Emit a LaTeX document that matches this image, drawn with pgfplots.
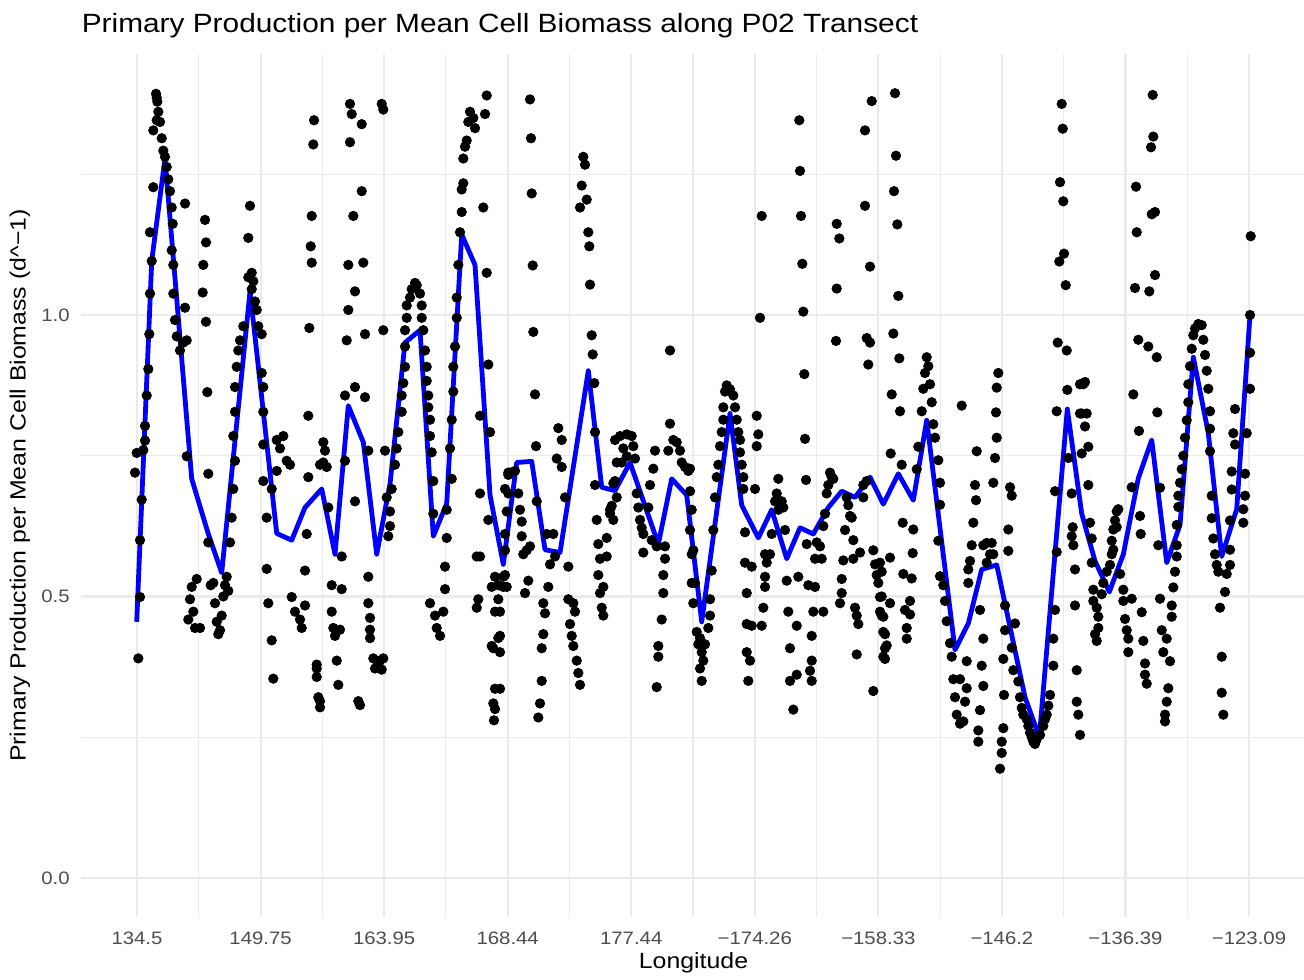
\documentclass[border=0pt]{standalone}
\usepackage{pgfplots}
\pgfplotsset{compat=1.18}
\usepackage{fontspec}
\setmainfont{Liberation Sans}[FakeStretch=1.13]
\definecolor{gridgrey}{HTML}{EBEBEB}
\definecolor{ticktext}{HTML}{4D4D4D}

\begin{document}
\begin{tikzpicture}
\begin{axis}[
    name=ax,
    scale only axis,
    width=612pt, height=431.5pt,
    xmin=81.4, xmax=1305.6,
    ymin=-0.0697, ymax=1.4637,
    clip=false,
    axis line style={draw=none},
    major tick length=0pt, minor tick length=0pt,
    xtick={137,260.56,384.11,507.67,631.22,754.78,878.33,1001.89,1125.44,1249},
    xticklabels={134.5,149.75,163.95,168.44,177.44,−174.26,−158.33,−146.2,−136.39,−123.09},
    minor xtick={198.78,322.33,445.89,569.44,693,816.56,940.11,1063.67,1187.22},
    ytick={0,0.5,1},
    yticklabels={0.0,0.5,1.0},
    minor ytick={0.25,0.75,1.25},
    xmajorgrids, ymajorgrids, xminorgrids, yminorgrids,
    major grid style={gridgrey, line width=1.07pt},
    minor grid style={gridgrey, line width=0.53pt},
    xticklabel style={font=\fontsize{9}{10}\selectfont, text=ticktext, anchor=base, inner sep=0pt, yshift=-13.5pt},
    yticklabel style={font=\fontsize{9}{10}\selectfont, text=ticktext, anchor=east, inner sep=0pt, xshift=-5.7pt},
]

% individual samples
\addplot[only marks, mark=*, mark size=2.35pt, black] coordinates {
(138.3,0.39) (140,0.499) (140,0.60) (141.7,0.672) (135,0.72) (136.7,0.755) (143.3,0.76) (145,0.777) (145,0.803)
(146.7,0.857) (148.3,0.904) (149.3,0.966) (150,1.038) (151.7,1.096) (150,1.147) (153.3,1.227) (153.3,1.328)
(156.7,1.346) (158.3,1.361) (160,1.343) (161.7,1.314) (163.3,1.292) (165,1.281) (166.7,1.263) (156.7,1.386)
(156,1.393) (157.3,1.379) (168.3,1.241) (170,1.22) (171.7,1.191) (172.7,1.162) (171.7,1.115) (173.3,1.089)
(173.3,1.038) (175,0.991) (176.7,0.962) (180,0.937) (183.3,0.951) (186.7,0.955) (185,1.198) (185,1.013) (186.7,0.749)
(205,1.169) (206,1.129) (203.3,1.089) (202.7,1.04) (206,0.988) (207.3,0.863) (208.3,0.718) (208.3,0.596)
(210.7,0.52) (200,0.444) (196.7,0.531) (191.7,0.517) (190,0.495) (188.3,0.459) (193.3,0.473) (195,0.444)
(213.3,0.524) (215,0.488) (216.7,0.455) (218.3,0.433) (220,0.44) (221.7,0.466) (223.3,0.5) (225,0.52) (226.7,0.535) (228.3,0.51)
(230,0.596) (231.7,0.640) (233.3,0.691) (235,0.741) (233.3,0.785) (235,0.828) (235,0.872) (236.7,0.908) (238.3,0.937)
(240,0.955) (243.3,0.98) (248.3,1.067) (251.7,1.075) (253.3,1.06) (251.7,1.046) (255,1.024) (256.7,1.009) (258.3,0.98)
(261.7,0.966) (261.7,0.897) (263.3,0.872) (263.3,0.828) (263.3,0.770) (263.3,0.705) (266.7,0.640) (266.7,0.549)
(268.3,0.488) (271.7,0.422) (273.3,0.354) (250,1.194) (248.3,1.137)
(276.7,0.778) (280,0.763) (283.3,0.785) (286.7,0.741) (290,0.734) (276.7,0.723) (271.7,0.691)
(291.7,0.499) (295,0.473) (300,0.459) (301.7,0.444) (305,0.484) (306.7,0.611) (305,0.546) (308.3,0.712) (308.3,0.821)
(309.3,0.977) (311.7,1.093) (310.7,1.122) (311.7,1.176) (313.3,1.303) (314,1.346) (316.7,0.372) (318.3,0.321)
(323.3,0.774) (325,0.759) (323.3,0.738) (320,0.734) (326.7,0.730) (328.3,0.658) (331.7,0.520) (331.7,0.473)
(333.3,0.444) (335,0.430) (340,0.441) (336.7,0.386) (338.3,0.343) (316.7,0.379) (316.7,0.357) (320,0.314) (320,0.303)
(350,1.375) (351.7,1.357) (361.7,1.339) (350,1.307) (361.7,1.220) (353.3,1.176) (348.3,1.089) (363.3,1.093)
(355,1.042) (348.3,1.009) (346.7,0.955) (365,0.966) (355,0.872) (345,0.857) (365,0.854) (368.3,0.759) (345,0.741)
(355,0.669) (341.7,0.571) (341.7,0.513) (368.3,0.535) (368.3,0.488) (370,0.462) (370,0.441) (370,0.426)
(373.3,0.390) (375,0.372) (380,0.386) (358.3,0.314) (360,0.307)
(381.7,1.375) (383.3,1.365) (383.3,0.973) (385,0.759) (386.7,0.676) (390,0.651) (390,0.625) (388.3,0.607)
(378.3,0.38) (381.7,0.37) (383.3,0.39)
(391.7,0.691) (395,0.734) (396.7,0.763) (398.3,0.792) (401.7,0.828) (401.7,0.857) (403.3,0.879) (405,0.908)
(405,0.944) (405,0.973) (406.7,0.995) (406.7,1.017) (410,1.031) (411.7,1.046) (415,1.057) (416.7,1.053) (420,1.038)
(421.7,1.017) (421.7,0.995) (423.3,0.973) (425,0.937) (426.7,0.908) (426.7,0.883) (428.3,0.857) (428.3,0.836)
(430,0.814) (430,0.785) (431.7,0.756) (433.3,0.705) (433.3,0.647) (430,0.488) (435,0.466) (436.7,0.444) (440,0.430)
(446.7,0.604) (445,0.553) (445,0.513) (443.3,0.473) (446.7,0.654) (451.7,0.709) (450,0.763) (451.7,0.814)
(453.3,0.864) (453.3,0.908) (455,0.944) (456.7,0.995) (456.7,1.031) (458.3,1.089) (460,1.147) (461.7,1.183)
(461.7,1.223) (463.3,1.234) (463.3,1.278) (465,1.299) (466.7,1.310) (468.3,1.343) (470,1.361) (473.3,1.35)
(475,1.332) (485,1.357) (486.7,1.39) (483.3,1.191) (486.7,1.075) (488.3,0.912) (480,0.821) (490,0.792)
(480,0.683) (488.3,0.636) (476.7,0.571) (480,0.571) (478.3,0.495) (476.7,0.480)
(491.7,0.517) (495,0.535) (498.3,0.520) (503.3,0.535) (506.7,0.517) (495,0.473) (498.3,0.426) (491.7,0.412)
(493.3,0.408) (495,0.336) (493.3,0.310) (498.3,0.495) (508.3,0.72) (508.3,0.683) (494,0.28) (495,0.30)
(500,0.473) (500,0.430) (500,0.401) (500,0.336) (503.3,0.517) (505,0.538) (505,0.582) (505,0.611) (506.7,0.651)
(505,0.691) (508.3,0.716) (510,0.72) (515,0.723) (518.3,0.683) (520,0.654) (521.7,0.633) (521.7,0.607) (523.3,0.575)
(526.7,0.582) (528.3,0.528) (525,0.506) (530,0.589) (530,1.383) (531,1.314) (531.7,1.216) (532.7,1.088)
(533.3,0.970) (535,0.859) (536,0.767) (536.7,0.669)
(546.7,0.611) (553.3,0.611) (555,0.571) (550,0.557) (568.3,0.553) (548.3,0.517) (543.3,0.488) (545,0.470)
(543.3,0.433) (541.7,0.408) (541.7,0.35) (540,0.310) (538.3,0.285) (558.3,0.799) (561.7,0.778) (561.7,0.730)
(556.7,0.745) (565,0.676) (568.3,0.495) (573.3,0.488) (575,0.473) (570,0.451) (571.7,0.430) (573.3,0.412)
(576.7,0.386) (578.3,0.364) (580,0.343)
(583.3,1.281) (585,1.267) (581.7,1.23) (586.7,1.205) (580,1.191) (588.3,1.147) (589.3,1.122) (590,1.054)
(591.7,0.964) (592.7,0.930) (594.3,0.879) (595,0.792) (595,0.698) (596.7,0.636) (598.3,0.593) (600,0.567)
(598.3,0.538) (603.3,0.517) (600,0.506) (601.7,0.480) (603.3,0.466) (606.7,0.604) (606.7,0.571) (611.7,0.661)
(610,0.654) (613.3,0.636) (613.3,0.701)
(615,0.778) (620,0.785) (626.7,0.788) (631.7,0.785) (623.3,0.763) (633.3,0.767) (616.7,0.738) (621.7,0.738)
(626.7,0.749) (635,0.745) (615,0.705) (616.7,0.676) (610,0.647) (636.7,0.683) (638.3,0.658) (640,0.636)
(641.7,0.622) (643.3,0.611) (648.3,0.658) (650,0.698) (653.3,0.727) (655,0.759) (643.3,0.578) (651.7,0.600) (656.7,0.589)
(670,0.937) (670,0.807) (668.3,0.759) (673.3,0.778) (676.7,0.774) (680,0.759) (681.7,0.738) (685,0.730)
(688.3,0.723) (665,0.589) (665,0.567) (663.3,0.538) (663.3,0.506) (661.7,0.459) (658.3,0.412) (658.3,0.393) (656.7,0.339)
(690,0.687) (690,0.618) (691.7,0.575) (691.7,0.524) (693.3,0.488) (696.7,0.437) (698.3,0.415) (700,0.372)
(690,0.727) (691.7,0.654) (693.3,0.582) (695,0.524) (700,0.426) (705,0.415) (701.7,0.401) (703.3,0.386)
(701.7,0.35) (708.3,0.444) (710,0.466) (710,0.495)
(711.7,0.546) (713.3,0.618) (715,0.676) (716.7,0.712) (718.3,0.734) (720,0.767) (721.7,0.792) (723.3,0.814)
(723.3,0.836) (725,0.864) (726.7,0.875) (730,0.868) (733.3,0.857) (735,0.836) (736.7,0.814) (738.3,0.792)
(740,0.778) (740,0.756) (741.7,0.734) (743.3,0.712) (743.3,0.691)
(745,0.614) (745,0.560) (751.7,0.553) (746.7,0.506) (746.7,0.451) (751.7,0.448) (746.7,0.401) (750,0.386)
(748.3,0.35) (756.7,0.821) (758.3,0.788) (756.7,0.767) (755,0.691) (760,0.995) (761.7,1.176)
(765,0.575) (770,0.575) (766.7,0.560) (765,0.535) (765,0.517) (763.3,0.480) (761.7,0.448) (771.7,0.611)
(778.3,0.709) (776.7,0.683) (775,0.669) (778.3,0.654) (781.7,0.669) (783.3,0.658) (785,0.618) (786.7,0.528)
(788.3,0.473) (796.7,0.448) (790,0.408) (790,0.35) (796.7,0.361) (793.3,0.299)
(799.3,1.346) (800,1.256) (801,1.176) (802.3,1.091) (803.3,1.006) (804.3,0.895) (805,0.780) (806,0.707)
(798.3,0.535) (806.7,0.593) (808.3,0.520) (815,0.517) (811.7,0.430) (813.3,0.473) (811.7,0.386) (810,0.368) (811.7,0.350)
(816.7,0.596) (820,0.589) (821.7,0.567) (823.3,0.625) (825,0.647) (826.7,0.683) (828.3,0.698) (830,0.72)
(831.7,0.712) (833.3,0.709) (823.3,0.473) (815,0.567) (836.7,1.162) (839.3,1.136) (836.7,1.047) (836,0.954)
(845,0.618) (851.7,0.640) (853.3,0.600) (843.3,0.564) (841.7,0.531) (841.7,0.506) (840,0.488)
(846.7,0.676) (848.3,0.662) (850,0.643) (855,0.480) (856.7,0.466) (858.3,0.451) (856.7,0.397) (860,0.578)
(853.3,0.567) (863.3,0.698) (863.3,0.676) (866.7,0.705) (865,1.328) (865,1.194) (870,1.086) (866.7,0.959)
(870,0.951) (868.3,0.912) (871.7,1.380) (873.3,0.582) (875,0.557) (876.7,0.538) (878.3,0.524) (880,0.499)
(880,0.473) (881.7,0.466) (883.3,0.437) (885,0.408) (883.3,0.393) (873.3,0.332)
(880,0.560) (881.7,0.544) (881.7,0.500) (883.3,0.464) (885,0.433) (886.7,0.413) (885,0.389) (895,1.394)
(896,1.283) (894,1.22) (897.3,1.161) (898.3,1.034) (893.3,0.967) (899.3,0.923) (891.7,0.859) (900,0.829)
(890.7,0.754) (901.7,0.734) (902.7,0.631) (913.3,0.619) (912.7,0.577) (890,0.569) (903.3,0.540) (911.7,0.532)
(890,0.488) (910,0.492) (905,0.476) (910,0.468) (906.7,0.444) (906.7,0.425)
(916.7,0.726) (918.3,0.766) (921.7,0.829) (923.3,0.869) (925,0.897) (926.7,0.925) (928.3,0.909) (930,0.877)
(931.7,0.845) (933.3,0.806) (935,0.782) (938.3,0.742) (940,0.702) (940,0.663) (938.3,0.599) (940,0.536)
(943.3,0.520) (945,0.492) (946.7,0.456) (950,0.417) (951.7,0.393) (953.3,0.353) (955,0.321) (956.7,0.290)
(960,0.274) (963.3,0.278) (965,0.313) (960,0.353) (966.7,0.385) (966.7,0.337)
(961.7,0.839) (976.7,0.758) (975,0.698) (976,0.671) (973.3,0.631) (971.7,0.591) (970,0.563) (968.3,0.548)
(968.3,0.524) (980,0.476) (983.3,0.425) (981.7,0.377) (983.3,0.341) (980,0.298) (978.3,0.262) (978.3,0.242)
(983.3,0.591) (986.7,0.595) (991.7,0.595) (990,0.575) (986.7,0.560) (993.3,0.575)
(998.3,0.897) (996.7,0.871) (996,0.827) (996.7,0.782) (995,0.746) (993.3,0.702) (1005,0.484) (1005,0.440)
(1003.3,0.389) (1004,0.325) (1003.3,0.266) (1001.7,0.242) (1001.7,0.222) (1000,0.194)
(1010,0.694) (1011.7,0.679) (1008.3,0.619) (1008.3,0.581) (1015,0.452) (1011.7,0.409) (1013.3,0.369)
(1018.3,0.349) (1020,0.321) (1021.7,0.302) (1023.3,0.290) (1026.7,0.282) (1028.3,0.270) (1030,0.258)
(1031.7,0.250) (1033.3,0.242) (1035,0.238) (1036.7,0.246) (1040,0.254) (1043.3,0.270) (1045,0.282)
(1046.7,0.290) (1048.3,0.306) (1050,0.325) (1053.3,0.377) (1053.3,0.425) (1055,0.476)
(1061.7,1.375) (1062.7,1.331) (1060,1.236) (1063.3,1.202) (1064,1.109) (1059.3,1.095) (1065.7,1.053)
(1057.7,0.951) (1066.7,0.937) (1067.3,0.867) (1056.7,0.829) (1068.3,0.746) (1055,0.687) (1071.7,0.683)
(1072.7,0.623) (1071.7,0.607) (1073.3,0.591) (1056.7,0.579) (1075,0.548) (1075,0.484) (1076.7,0.369)
(1076.7,0.313) (1078.3,0.290) (1080,0.254) (1080,0.877) (1080,0.825)
(1083.3,0.877) (1085,0.881) (1081.7,0.825) (1086.7,0.825) (1085,0.802) (1088.3,0.766) (1081.7,0.754)
(1088.3,0.698) (1090,0.631) (1091.7,0.603) (1091.7,0.560) (1093.3,0.512) (1093.3,0.492) (1096.7,0.480)
(1098.3,0.464) (1098.3,0.444) (1095,0.433) (1096.7,0.421)
(1101.7,0.504) (1103.3,0.524) (1106.7,0.544) (1110,0.556) (1111.7,0.575) (1111.7,0.599) (1113.3,0.619)
(1115,0.635) (1116.7,0.651) (1118.3,0.655) (1116.7,0.623) (1113.3,0.583) (1120,0.540) (1123.3,0.512)
(1123.3,0.492) (1125,0.460) (1126.7,0.440) (1128.3,0.425) (1128.3,0.401) (1131.7,0.496)
(1152.7,1.391) (1153.3,1.317) (1151,1.298) (1136,1.228) (1151.7,1.179) (1155,1.183) (1136.7,1.147)
(1155,1.071) (1135,1.048) (1149.3,1.042) (1138.3,0.956) (1148.3,0.944) (1156.7,0.925) (1133.3,0.859)
(1157.3,0.827) (1139,0.794) (1131.7,0.694) (1160,0.693) (1140,0.643) (1140.7,0.611) (1158.3,0.591)
(1141.7,0.472) (1143.3,0.421) (1145,0.381) (1145,0.361) (1146.7,0.345)
(1160,0.496) (1161.7,0.440) (1163.3,0.401) (1170,0.385) (1168.3,0.337) (1166.7,0.313) (1165,0.290)
(1165,0.278) (1166.7,0.425) (1171.7,0.464) (1171.7,0.484) (1173.3,0.516) (1175,0.544) (1176.7,0.571)
(1176.7,0.591) (1176.7,0.627) (1178.3,0.659) (1178.3,0.679) (1180,0.702) (1181.7,0.726) (1183.3,0.750)
(1185,0.782) (1186.7,0.813) (1188.3,0.845) (1188.3,0.877) (1190,0.909) (1191.7,0.940) (1193.3,0.964)
(1195,0.976) (1198.3,0.984) (1201.7,0.982) (1203.3,0.956) (1205,0.929) (1206.7,0.901) (1208.3,0.869)
(1210,0.829) (1210,0.798) (1210,0.758) (1211.7,0.679) (1211.7,0.639) (1213.3,0.603) (1215,0.575)
(1216.7,0.556) (1218.3,0.544) (1220,0.480) (1221.7,0.393) (1221.7,0.329) (1223.3,0.290) (1225,0.508)
(1226.7,0.540) (1230,0.556) (1230,0.583)
(1235,0.833) (1233.3,0.790) (1235,0.770) (1231.7,0.722) (1231.7,0.690) (1230,0.635) (1243.3,0.655)
(1243.3,0.631) (1245,0.679) (1245,0.718) (1246.7,0.790) (1250,0.869) (1250,0.933) (1250,1.0) (1250.7,1.140)
};

% station means
\addplot[blue, line width=2.4pt, line join=round, no marks] coordinates {
(136.7,0.455) (151.7,1.096) (165.0,1.278) (191.7,0.709) (208.3,0.611) (221.7,0.542) (250.0,1.042)
(276.7,0.612) (291.7,0.600) (305.0,0.658) (321.7,0.691) (335.0,0.575) (348.3,0.839) (363.3,0.774)
(376.7,0.575) (390.0,0.70) (405.0,0.951) (420.0,0.973) (433.3,0.607) (446.7,0.665) (461.7,1.143)
(475.0,1.089) (490.0,0.680) (503.3,0.557) (516.7,0.738) (531.7,0.740) (545.0,0.583) (560.0,0.578)
(588.3,0.901) (601.7,0.694) (615.0,0.688) (630.0,0.738) (658.3,0.593) (671.7,0.709) (686.7,0.680)
(701.7,0.455) (730.0,0.825) (741.7,0.662) (758.3,0.604) (771.7,0.654) (786.7,0.567) (800.0,0.622)
(813.3,0.611) (828.3,0.658) (841.7,0.687) (855.0,0.676) (870.0,0.712) (883.3,0.664) (898.3,0.718)
(913.3,0.671) (926.7,0.813) (955.0,0.405) (968.3,0.452) (981.7,0.548) (996.7,0.556) (1025.0,0.321)
(1039.3,0.25) (1067.3,0.833) (1081.7,0.647) (1095.0,0.563) (1109.3,0.508) (1123.3,0.575) (1138.3,0.71)
(1151.7,0.778) (1166.7,0.560) (1180.0,0.627) (1193.3,0.925) (1208.3,0.790) (1221.7,0.571) (1236.7,0.655)
(1250.0,1.0)
};

\node[anchor=base west, inner sep=0pt, font=\fontsize{13.2}{15}\selectfont] at ([yshift=10.5pt]rel axis cs:0,1)
  {Primary Production per Mean Cell Biomass along P02 Transect};
\node[anchor=base, inner sep=0pt, font=\fontsize{11}{13}\selectfont] at ([yshift=-25.5pt]rel axis cs:0.5,0) {Longitude};
\node[rotate=90, anchor=center, inner sep=0pt, font=\fontsize{11}{13}\selectfont] at ([xshift=-30.7pt]rel axis cs:0,0.5)
  {Primary Production per Mean Cell Biomass (d\^{}−1)};
\end{axis}
\pgfresetboundingbox
\path ([shift={(-40.7pt,-31pt)}]ax.south west) rectangle ([shift={(-0.8pt,27pt)}]ax.north east);
\end{tikzpicture}
\end{document}
